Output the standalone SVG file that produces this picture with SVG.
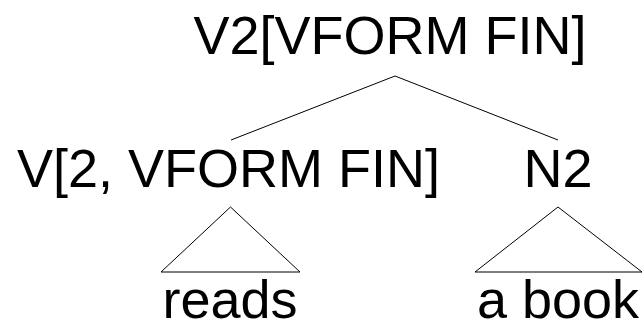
<svg xmlns="http://www.w3.org/2000/svg" width="644" height="321" viewBox="0 0 644 321">
  <style>
    text { font-family: "Liberation Sans", Arial, sans-serif; font-size: 54px; fill: #000; }
    .edge { stroke: #000; stroke-width: 1; fill: none; }
  </style>
  <rect width="644" height="321" fill="#fff"/>
  <g id="connectors">
    <polyline class="edge" points="231,140 395,76 558,140"/>
    <polygon class="edge" points="230.5,207 300,272 161,272"/>
    <polygon class="edge" points="558,207 642,272 475,272"/>
  </g>
  <g id="node-v2">
    <text x="390" y="54" text-anchor="middle">V2[VFORM FIN]</text>
  </g>
  <g id="node-v">
    <text x="17" y="187">V[2, VFORM FIN]</text>
  </g>
  <g id="node-n2">
    <text x="558" y="187" text-anchor="middle">N2</text>
  </g>
  <g id="node-reads">
    <text x="230" y="318" text-anchor="middle">reads</text>
  </g>
  <g id="node-a-book">
    <text x="558" y="318" text-anchor="middle">a book</text>
  </g>
</svg>
